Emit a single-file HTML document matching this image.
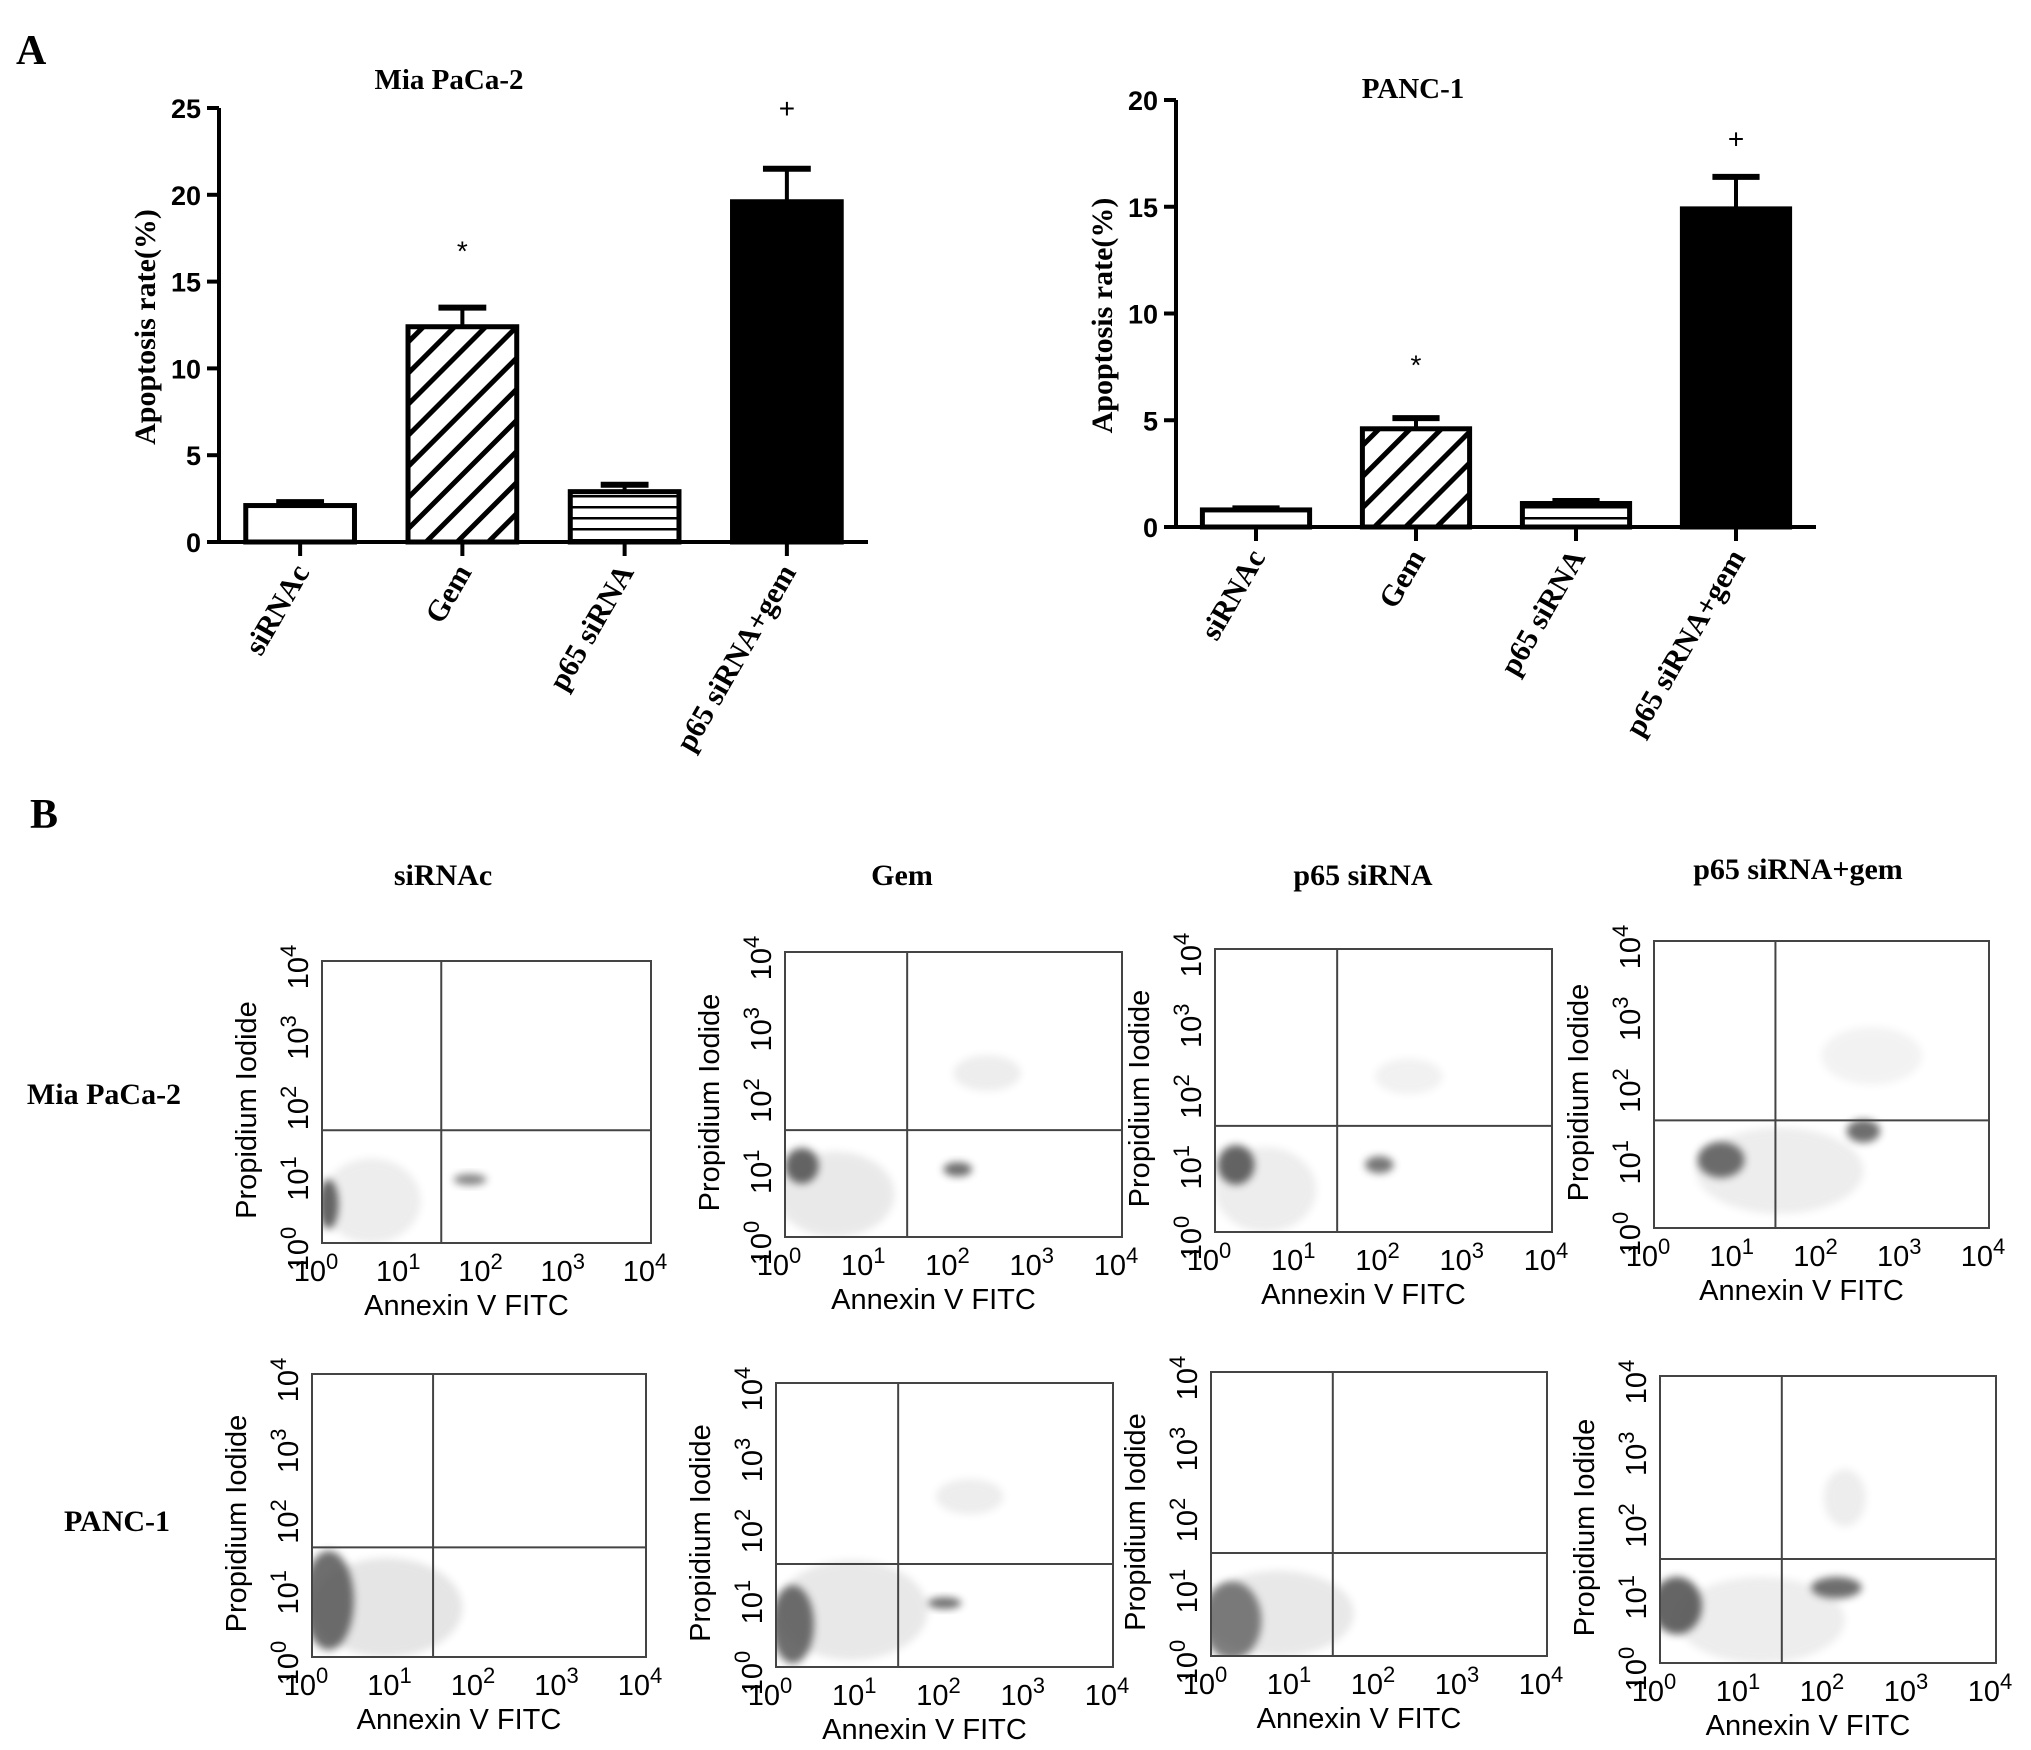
<!DOCTYPE html>
<html><head><meta charset="utf-8"><style>
html,body{margin:0;padding:0;background:#fff;}
svg{display:block;}
.serif{font-family:"Liberation Serif",serif;font-weight:bold;}
.sans{font-family:"Liberation Sans",sans-serif;}
</style></head><body>
<svg id="fig" width="2031" height="1750" viewBox="0 0 2031 1750" xmlns="http://www.w3.org/2000/svg">
<defs>
<pattern id="diag" patternUnits="userSpaceOnUse" width="22" height="22" patternTransform="rotate(45)">
<rect width="22" height="22" fill="#fff"/><rect x="0" y="0" width="5" height="22" fill="#000"/></pattern>
<pattern id="horiz" patternUnits="userSpaceOnUse" width="10" height="11">
<rect width="10" height="11" fill="#fff"/><rect x="0" y="0" width="10" height="2.5" fill="#000"/></pattern>
<filter id="blur" x="-50%" y="-50%" width="200%" height="200%"><feGaussianBlur stdDeviation="4"/></filter>
</defs>
<text class="serif" x="16" y="64" font-size="42">A</text>
<text class="serif" x="30" y="828" font-size="42">B</text>
<g id="charts"></g>
<g id="flows"></g>
</svg>
<script>
const NS='http://www.w3.org/2000/svg';
function mk(tag,attrs,parent,txt){const e=document.createElementNS(NS,tag);for(const k in attrs)e.setAttribute(k,attrs[k]);if(txt!==undefined)e.textContent=txt;parent.appendChild(e);return e;}

// ---- Bar chart data ----
const categories=['siRNAc','Gem','p65 siRNA','p65 siRNA+gem'];
const miaValues=[2.1,12.4,2.9,19.6];
const miaErrors=[0.2,1.1,0.4,1.9];
const miaTicks=[0,5,10,15,20,25];
const miaMarks=['','*','','+'];
const miaMarkY=[0,16.8,0,25];
const pancValues=[0.8,4.6,1.1,14.9];
const pancErrors=[0.07,0.5,0.12,1.5];
const pancTicks=[0,5,10,15,20];
const pancMarks=['','*','','+'];
const pancMarkY=[0,7.6,0,18.2];
const fills=['#fff','url(#diag)','url(#horiz)','#000'];

function barChart(cfg){
  const g=mk('g',{},document.getElementById('charts'));
  
  
  const ymax=cfg.ticks[cfg.ticks.length-1];
  const y=v=>cfg.y0-(v/ymax)*(cfg.y0-cfg.yTop);
  const n=categories.length, step=(cfg.x1-cfg.x0)/n;
  const bx=i=>cfg.x0+step*(i+0.5);
  const bw=step*0.67;
  const t=mk('text',{class:'serif',x:cfg.titleX,y:cfg.titleY,'font-size':29,'text-anchor':'middle'},g,cfg.title);
  
  cfg.ticks.forEach(v=>{
    const l=mk('line',{x1:cfg.x0-12,x2:cfg.x0,y1:y(v),y2:y(v),stroke:'#000','stroke-width':4},g);
    
    const tx=mk('text',{class:'sans',x:cfg.x0-18,y:y(v)+10,'font-size':27,'font-weight':'bold','text-anchor':'end'},g,String(v));
    
  });
  const yt=mk('text',{class:'serif','font-size':30,'text-anchor':'middle',transform:`translate(${cfg.x0-64},${(cfg.y0+cfg.yTop)/2+2}) rotate(-90)`},g,'Apoptosis rate(%)');
  
  categories.forEach((c,i)=>{
    const v=cfg.values[i], e=cfg.values[i]+cfg.errors[i];
    const el=mk('line',{x1:bx(i),x2:bx(i),y1:y(v),y2:y(e),stroke:'#000','stroke-width':4},g);
    
    const ec=mk('line',{x1:bx(i)-bw*0.22,x2:bx(i)+bw*0.22,y1:y(e),y2:y(e),stroke:'#000','stroke-width':6},g);
    
    const r=mk('rect',{x:bx(i)-bw/2,y:y(v),width:bw,height:cfg.y0-y(v),fill:fills[i],stroke:'#000','stroke-width':5},g);
    
    if(cfg.marks[i]){const m=mk('text',{class:'sans',x:bx(i),y:y(cfg.markY[i])+10,'font-size':28,'text-anchor':'middle'},g,cfg.marks[i]);
      }
    const tk=mk('line',{x1:bx(i),x2:bx(i),y1:cfg.y0,y2:cfg.y0+14,stroke:'#000','stroke-width':4},g);
    
    const lb=mk('text',{class:'serif','font-size':30,'text-anchor':'end',transform:`translate(${bx(i)+10},${cfg.y0+30}) rotate(-60)`},g,c);
    
  });
  const ax=mk('line',{x1:cfg.x0,x2:cfg.x0,y1:cfg.yTop,y2:cfg.y0,stroke:'#000','stroke-width':4},g);
  
  const xa=mk('line',{x1:cfg.x0,x2:cfg.x1,y1:cfg.y0,y2:cfg.y0,stroke:'#000','stroke-width':4},g);
  
}
barChart({name:'mia-paca-2-chart',title:'Mia PaCa-2',titleX:449,titleY:89,x0:219,x1:868,y0:542,yTop:108,values:miaValues,errors:miaErrors,ticks:miaTicks,marks:miaMarks,markY:miaMarkY});
barChart({name:'panc-1-chart',title:'PANC-1',titleX:1413,titleY:98,x0:1176,x1:1816,y0:527,yTop:100,values:pancValues,errors:pancErrors,ticks:pancTicks,marks:pancMarks,markY:pancMarkY});

// ---- Column / row labels ----
const colTitles=['siRNAc','Gem','p65 siRNA','p65 siRNA+gem'];
const colX=[443,902,1363,1798];
const colY=[885,885,885,879];
colTitles.forEach((c,i)=>{const t=mk('text',{class:'serif',x:colX[i],y:colY[i],'font-size':30,'text-anchor':'middle'},document.getElementById('fig'),c);
  });
const r1=mk('text',{class:'serif',x:104,y:1104,'font-size':30,'text-anchor':'middle'},document.getElementById('fig'),'Mia PaCa-2');

const r2=mk('text',{class:'serif',x:117,y:1531,'font-size':30,'text-anchor':'middle'},document.getElementById('fig'),'PANC-1');


// ---- Flow cytometry plots ----
const flowBoxes=[[322,961,651,1243],[785,952,1122,1237],[1215,949,1552,1232],[1654,941,1989,1228],
 [312,1374,646,1657],[776,1383,1113,1667],[1211,1372,1547,1656],[1660,1376,1996,1663]];
const flowQuadX=[1.45,1.45,1.45,1.45,1.45,1.45,1.45,1.45];
const flowQuadY=[1.6,1.5,1.5,1.5,1.55,1.45,1.45,1.45];
const flowClusters=[
 [[0.08,0.55,0.12,0.35,0.9],[0.6,0.6,0.6,0.6,0.1],[1.8,0.9,0.2,0.08,0.7]],
 [[0.2,1.0,0.2,0.25,0.9],[0.6,0.6,0.7,0.6,0.12],[2.05,0.95,0.17,0.1,0.85],[2.4,2.3,0.4,0.25,0.1]],
 [[0.25,0.95,0.22,0.28,0.9],[0.6,0.6,0.6,0.6,0.1],[1.95,0.95,0.17,0.12,0.8],[2.3,2.2,0.4,0.25,0.08]],
 [[0.8,0.95,0.28,0.25,0.85],[2.5,1.35,0.2,0.16,0.85],[1.5,0.8,1.0,0.6,0.1],[2.6,2.4,0.6,0.4,0.07]],
 [[0.2,0.8,0.3,0.7,0.85],[0.9,0.7,0.9,0.7,0.15]],
 [[0.2,0.6,0.25,0.55,0.85],[0.9,0.8,0.9,0.7,0.13],[2.0,0.9,0.2,0.08,0.85],[2.3,2.4,0.4,0.25,0.1]],
 [[0.25,0.5,0.35,0.55,0.75],[0.8,0.6,0.9,0.6,0.13]],
 [[0.2,0.8,0.3,0.4,0.9],[2.1,1.05,0.3,0.15,0.85],[1.2,0.6,1.0,0.6,0.1],[2.2,2.3,0.25,0.4,0.1]]];
const decades=[0,1,2,3,4];

const fg=document.getElementById('flows');
flowBoxes.forEach((b,p)=>{
  const [x0,y0,x1,y1]=b;
  const g=mk('g',{},fg);
  
  
  const sx=d=>x0+(d/4)*(x1-x0), sy=d=>y1-(d/4)*(y1-y0);
  const cl=mk('clipPath',{id:'clip'+p},g);mk('rect',{x:x0,y:y0,width:x1-x0,height:y1-y0},cl);
  const cg=mk('g',{'clip-path':`url(#clip${p})`},g);
  flowClusters[p].forEach(c=>{
    const e=mk('ellipse',{cx:sx(c[0]),cy:sy(c[1]),rx:c[2]*(x1-x0)/4,ry:c[3]*(y1-y0)/4,fill:'#555',opacity:c[4],filter:'url(#blur)'},cg);
    
  });
  const r=mk('rect',{x:x0,y:y0,width:x1-x0,height:y1-y0,fill:'none',stroke:'#444','stroke-width':2},g);
  
  const vl=mk('line',{x1:sx(flowQuadX[p]),x2:sx(flowQuadX[p]),y1:y0,y2:y1,stroke:'#444','stroke-width':2},g);
  
  const hl=mk('line',{x1:x0,x2:x1,y1:sy(flowQuadY[p]),y2:sy(flowQuadY[p]),stroke:'#444','stroke-width':2},g);
  
  decades.forEach(d=>{
    const t=mk('text',{class:'sans',x:sx(d)-6,y:y1+38,'font-size':29,'text-anchor':'middle'},g);
    
    mk('tspan',{},t,'10');mk('tspan',{dy:-12,'font-size':22},t,String(d));
    const u=mk('text',{class:'sans','font-size':29,'text-anchor':'middle',transform:`translate(${x0-14},${sy(d)+6}) rotate(-90)`},g);
    
    mk('tspan',{},u,'10');mk('tspan',{dy:-12,'font-size':22},u,String(d));
  });
  const xt=mk('text',{class:'sans',x:(x0+x1)/2-20,y:y1+72,'font-size':29,'text-anchor':'middle'},g,'Annexin V  FITC');
  
  const yt=mk('text',{class:'sans','font-size':29,'text-anchor':'middle',transform:`translate(${x0-66},${(y0+y1)/2+8}) rotate(-90)`},g,'Propidium Iodide');
  
});
</script>
</body></html>
